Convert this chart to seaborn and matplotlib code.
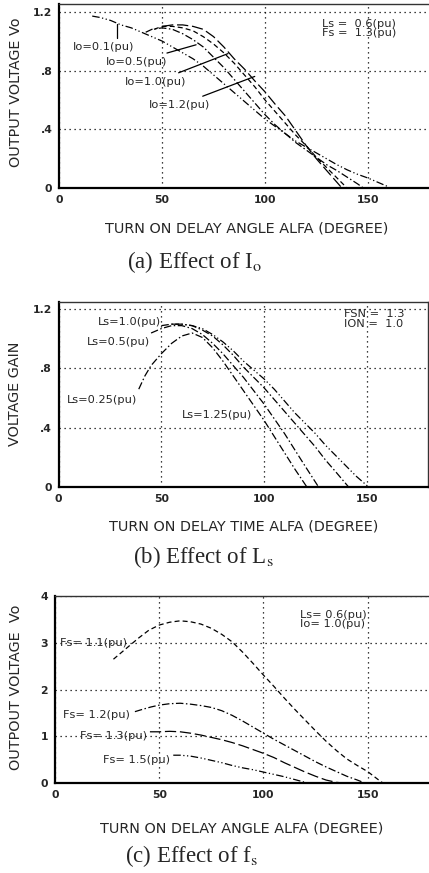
import numpy as np
import pandas as pd
import matplotlib
matplotlib.use("Agg")
import matplotlib.pyplot as plt
import seaborn as sns

# ---------------- data ----------------
# (a) Effect of Io
a_io01_x = [16, 20, 25, 30, 35, 40, 45, 50, 55, 60, 65, 70, 75, 80, 85, 90, 95, 100, 105, 110, 115, 120, 125, 130, 135, 140, 145, 150, 155, 160]
a_io01_y = [1.17, 1.16, 1.14, 1.11, 1.09, 1.06, 1.03, 1.00, 0.96, 0.92, 0.88, 0.83, 0.77, 0.71, 0.65, 0.59, 0.53, 0.47, 0.42, 0.37, 0.32, 0.28, 0.24, 0.20, 0.16, 0.125, 0.095, 0.07, 0.04, 0.01]
a_io05_x = [42, 45, 50, 55, 60, 65, 70, 75, 80, 85, 90, 95, 100, 105, 110, 115, 120, 125, 130, 135, 140, 145, 148]
a_io05_y = [1.06, 1.08, 1.09, 1.08, 1.05, 1.01, 0.96, 0.89, 0.82, 0.74, 0.66, 0.58, 0.50, 0.43, 0.37, 0.31, 0.26, 0.21, 0.16, 0.12, 0.075, 0.03, 0.0]
a_io10_x = [46, 50, 55, 60, 65, 70, 75, 80, 85, 90, 95, 100, 105, 110, 115, 120, 125, 130, 135, 140]
a_io10_y = [1.08, 1.10, 1.10, 1.09, 1.07, 1.03, 0.98, 0.92, 0.85, 0.77, 0.69, 0.60, 0.52, 0.44, 0.36, 0.29, 0.21, 0.14, 0.07, 0.0]
a_io12_x = [50, 55, 60, 65, 70, 75, 80, 85, 90, 95, 100, 105, 110, 115, 120, 125, 130, 135, 137.5]
a_io12_y = [1.10, 1.11, 1.11, 1.10, 1.08, 1.03, 0.96, 0.88, 0.81, 0.73, 0.655, 0.57, 0.49, 0.39, 0.29, 0.20, 0.12, 0.04, 0.0]

# (b) Effect of Ls
b_ls025_x = [39, 42, 45, 50, 55, 60, 65, 70, 75, 80, 85, 90, 95, 100, 105, 110, 115, 120.8]
b_ls025_y = [0.66, 0.75, 0.82, 0.90, 0.97, 1.02, 1.04, 1.01, 0.94, 0.85, 0.75, 0.65, 0.55, 0.45, 0.34, 0.23, 0.12, 0.0]
b_ls05_x = [45, 50, 55, 60, 65, 70, 75, 80, 85, 90, 95, 100, 105, 110, 115, 120, 126.5]
b_ls05_y = [1.04, 1.07, 1.09, 1.09, 1.07, 1.03, 0.97, 0.90, 0.82, 0.74, 0.65, 0.56, 0.46, 0.36, 0.25, 0.14, 0.0]
b_ls10_x = [50, 55, 60, 65, 70, 75, 80, 85, 90, 95, 100, 105, 110, 115, 120, 125, 130, 135, 141.1]
b_ls10_y = [1.09, 1.10, 1.10, 1.09, 1.06, 1.02, 0.96, 0.89, 0.81, 0.74, 0.67, 0.59, 0.51, 0.43, 0.35, 0.27, 0.18, 0.10, 0.0]
b_ls125_x = [55, 60, 65, 70, 75, 80, 85, 90, 95, 100, 105, 110, 115, 120, 125, 130, 135, 140, 145, 150.8]
b_ls125_y = [1.10, 1.10, 1.09, 1.07, 1.03, 0.98, 0.92, 0.85, 0.79, 0.73, 0.66, 0.58, 0.50, 0.43, 0.36, 0.28, 0.21, 0.14, 0.07, 0.0]

# (c) Effect of fs
c_fs11_x = [28, 32, 36, 40, 45, 50, 55, 60, 65, 70, 75, 80, 85, 90, 95, 100, 105, 110, 115, 120, 125, 130, 135, 140, 145, 150, 155, 157.5]
c_fs11_y = [2.65, 2.80, 2.95, 3.10, 3.27, 3.38, 3.44, 3.47, 3.45, 3.40, 3.31, 3.18, 3.02, 2.80, 2.56, 2.31, 2.07, 1.82, 1.58, 1.35, 1.12, 0.90, 0.70, 0.52, 0.38, 0.25, 0.08, 0.0]
c_fs12_x = [38.3, 42, 46, 50, 55, 60, 65, 70, 75, 80, 85, 90, 95, 100, 105, 110, 115, 120, 125, 130, 135, 140, 145, 149]
c_fs12_y = [1.53, 1.58, 1.63, 1.67, 1.70, 1.71, 1.69, 1.66, 1.62, 1.55, 1.45, 1.33, 1.20, 1.07, 0.94, 0.82, 0.70, 0.58, 0.46, 0.35, 0.25, 0.15, 0.07, 0.0]
c_fs13_x = [45.5, 50, 55, 60, 65, 70, 75, 80, 85, 90, 95, 100, 105, 110, 115, 120, 125, 130, 135, 140]
c_fs13_y = [1.10, 1.10, 1.11, 1.10, 1.07, 1.03, 0.98, 0.93, 0.87, 0.80, 0.72, 0.64, 0.55, 0.44, 0.34, 0.24, 0.15, 0.07, 0.02, 0.0]
c_fs15_x = [56.7, 60, 65, 70, 75, 80, 85, 90, 95, 100, 105, 110, 115, 120, 122]
c_fs15_y = [0.60, 0.60, 0.58, 0.54, 0.49, 0.44, 0.38, 0.33, 0.29, 0.24, 0.19, 0.14, 0.08, 0.02, 0.0]

x_ticks = [0, 50, 100, 150]
ab_yticks = [0, 0.4, 0.8, 1.2]
ab_yticklabels = ["0", ".4", ".8", "1.2"]
c_yticks = [0, 1, 2, 3, 4]
c_yticklabels = ["0", "1", "2", "3", "4"]

# ---------------- styling ----------------
sns.set_style("white")
plt.rcParams['font.family'] = ['DejaVu Sans']
plt.rcParams['mathtext.fontset'] = 'stix'

DASHDOTDOT = (0, (6, 2, 1, 2, 1, 2))
DASHDOT = (0, (6, 2, 1.2, 2))
DASH = (0, (4, 2.5))
LONGDASH = (0, (9, 3))
GRID = (0, (1, 3))

W, H = 429, 873
fig = plt.figure(figsize=(W / 100, H / 100), dpi=100)

LBL = 10.4     # axis label size
TXT = 8.2      # in-plot annotation size
CAP = 16.5     # caption size
SERIF = ['Liberation Serif', 'DejaVu Serif']


def make_axes(left, top, right, bottom):
    return fig.add_axes([left / W, 1 - bottom / H, (right - left) / W, (bottom - top) / H])


def style_axes(ax, ylim, yticks, yticklabels):
    ax.set_xlim(0, 180)
    ax.set_ylim(*ylim)
    ax.set_xticks(x_ticks)
    ax.set_xticklabels([str(t) for t in x_ticks])
    ax.set_yticks(yticks)
    ax.set_yticklabels(yticklabels)
    ax.tick_params(length=0, pad=5, labelsize=7.8)
    for lab in ax.get_xticklabels() + ax.get_yticklabels():
        lab.set_fontweight('bold')
    ax.grid(True, color='black', linestyle=GRID, linewidth=0.9)
    for s in ['left', 'bottom']:
        ax.spines[s].set_linewidth(1.6)
        ax.spines[s].set_color('black')
    for s in ['top', 'right']:
        ax.spines[s].set_linewidth(1.0)
        ax.spines[s].set_color('#333333')


def set_labels(ax, xlabel, ylabel, box, xl_px, yl_px):
    left, top, right, bottom = box
    w, h = right - left, bottom - top
    ax.set_xlabel(xlabel, fontsize=LBL, va='center')
    ax.set_ylabel(ylabel, fontsize=LBL, va='center')
    ax.xaxis.set_label_coords((xl_px[0] - left) / w, (bottom - xl_px[1]) / h)
    ax.yaxis.set_label_coords((yl_px[0] - left) / w, (bottom - yl_px[1]) / h)


def curve(ax, xs, ys, ls):
    df = pd.DataFrame({"x": xs, "y": ys})
    sns.lineplot(data=df, x="x", y="y", ax=ax, color='black', linewidth=0.9,
                 linestyle=ls, estimator=None, sort=False)


def leader(ax, text, xytext, xy):
    ax.annotate(text, xy=xy, xytext=xytext, fontsize=TXT, ha='center', va='center',
                arrowprops=dict(arrowstyle='-', color='black', lw=0.9, shrinkA=1, shrinkB=0))


# ---------------- panel (a) ----------------
box_a = (59.3, 4.3, 429.6, 188.3)
axa = make_axes(*box_a)
curve(axa, a_io01_x, a_io01_y, DASHDOTDOT)
curve(axa, a_io05_x, a_io05_y, DASHDOT)
curve(axa, a_io10_x, a_io10_y, DASH)
curve(axa, a_io12_x, a_io12_y, LONGDASH)
style_axes(axa, (0, 1.25), ab_yticks, ab_yticklabels)
set_labels(axa, "TURN ON DELAY ANGLE ALFA (DEGREE)", "OUTPUT VOLTAGE Vo", box_a, (246.7, 228), (16, 92))
axa.text(21.5, 0.96, "Io=0.1(pu)", fontsize=TXT, ha='center', va='center')
axa.plot([28, 28], [1.02, 1.115], color='black', lw=0.9)
leader(axa, "Io=0.5(pu)", (37.5, 0.86), (66.5, 0.975))
leader(axa, "Io=1.0(pu)", (47.0, 0.725), (82.0, 0.915))
leader(axa, "Io=1.2(pu)", (58.5, 0.566), (95.0, 0.76))
axa.text(127.5, 1.085, "Ls =  0.6(pu)\nFs =  1.3(pu)", fontsize=TXT, ha='left', va='center',
         linespacing=0.9)
fig.text(194 / W, 1 - 262 / H, r"(a) Effect of I$_\mathrm{o}$", fontsize=CAP,
         family=SERIF, ha='center', va='center')

# ---------------- panel (b) ----------------
box_b = (58.7, 302.0, 428.2, 486.7)
axb = make_axes(*box_b)
curve(axb, b_ls025_x, b_ls025_y, DASHDOT)
curve(axb, b_ls05_x, b_ls05_y, DASHDOT)
curve(axb, b_ls10_x, b_ls10_y, DASHDOT)
curve(axb, b_ls125_x, b_ls125_y, DASHDOTDOT)
style_axes(axb, (0, 1.25), ab_yticks, ab_yticklabels)
set_labels(axb, "TURN ON DELAY TIME ALFA (DEGREE)", "VOLTAGE GAIN", box_b, (244, 526.7), (15, 394))
axb.text(34.7, 1.116, "Ls=1.0(pu)", fontsize=TXT, ha='center', va='center')
axb.text(29.0, 0.981, "Ls=0.5(pu)", fontsize=TXT, ha='center', va='center')
axb.text(21.0, 0.587, "Ls=0.25(pu)", fontsize=TXT, ha='center', va='center')
axb.text(77.0, 0.485, "Ls=1.25(pu)", fontsize=TXT, ha='center', va='center')
axb.text(139.0, 1.135, "FSN =  1.3\nION =  1.0", fontsize=TXT, ha='left', va='center',
         linespacing=0.9)
fig.text(203 / W, 1 - 556.7 / H, r"(b) Effect of L$_\mathrm{s}$", fontsize=CAP,
         family=SERIF, ha='center', va='center')

# ---------------- panel (c) ----------------
box_c = (55.1, 596.0, 430.2, 783.3)
axc = make_axes(*box_c)
curve(axc, c_fs11_x, c_fs11_y, DASH)
curve(axc, c_fs12_x, c_fs12_y, DASHDOT)
curve(axc, c_fs13_x, c_fs13_y, LONGDASH)
curve(axc, c_fs15_x, c_fs15_y, DASHDOTDOT)
style_axes(axc, (0, 4), c_yticks, c_yticklabels)
set_labels(axc, "TURN ON DELAY ANGLE ALFA (DEGREE)", "OUTPOUT VOLTAGE  Vo", box_c, (242, 828), (16, 687))
axc.text(18.3, 2.99, "Fs= 1.1(pu)", fontsize=TXT, ha='center', va='center')
axc.text(19.9, 1.46, "Fs= 1.2(pu)", fontsize=TXT, ha='center', va='center')
axc.text(27.9, 1.01, "Fs= 1.3(pu)", fontsize=TXT, ha='center', va='center')
axc.text(39.2, 0.50, "Fs= 1.5(pu)", fontsize=TXT, ha='center', va='center')
axc.text(117.5, 3.505, "Ls= 0.6(pu)\nIo= 1.0(pu)", fontsize=TXT, ha='left', va='center',
         linespacing=0.9)
fig.text(192 / W, 1 - 856 / H, r"(c) Effect of f$_\mathrm{s}$", fontsize=CAP,
         family=SERIF, ha='center', va='center')

fig.savefig("out.png", dpi=100)
